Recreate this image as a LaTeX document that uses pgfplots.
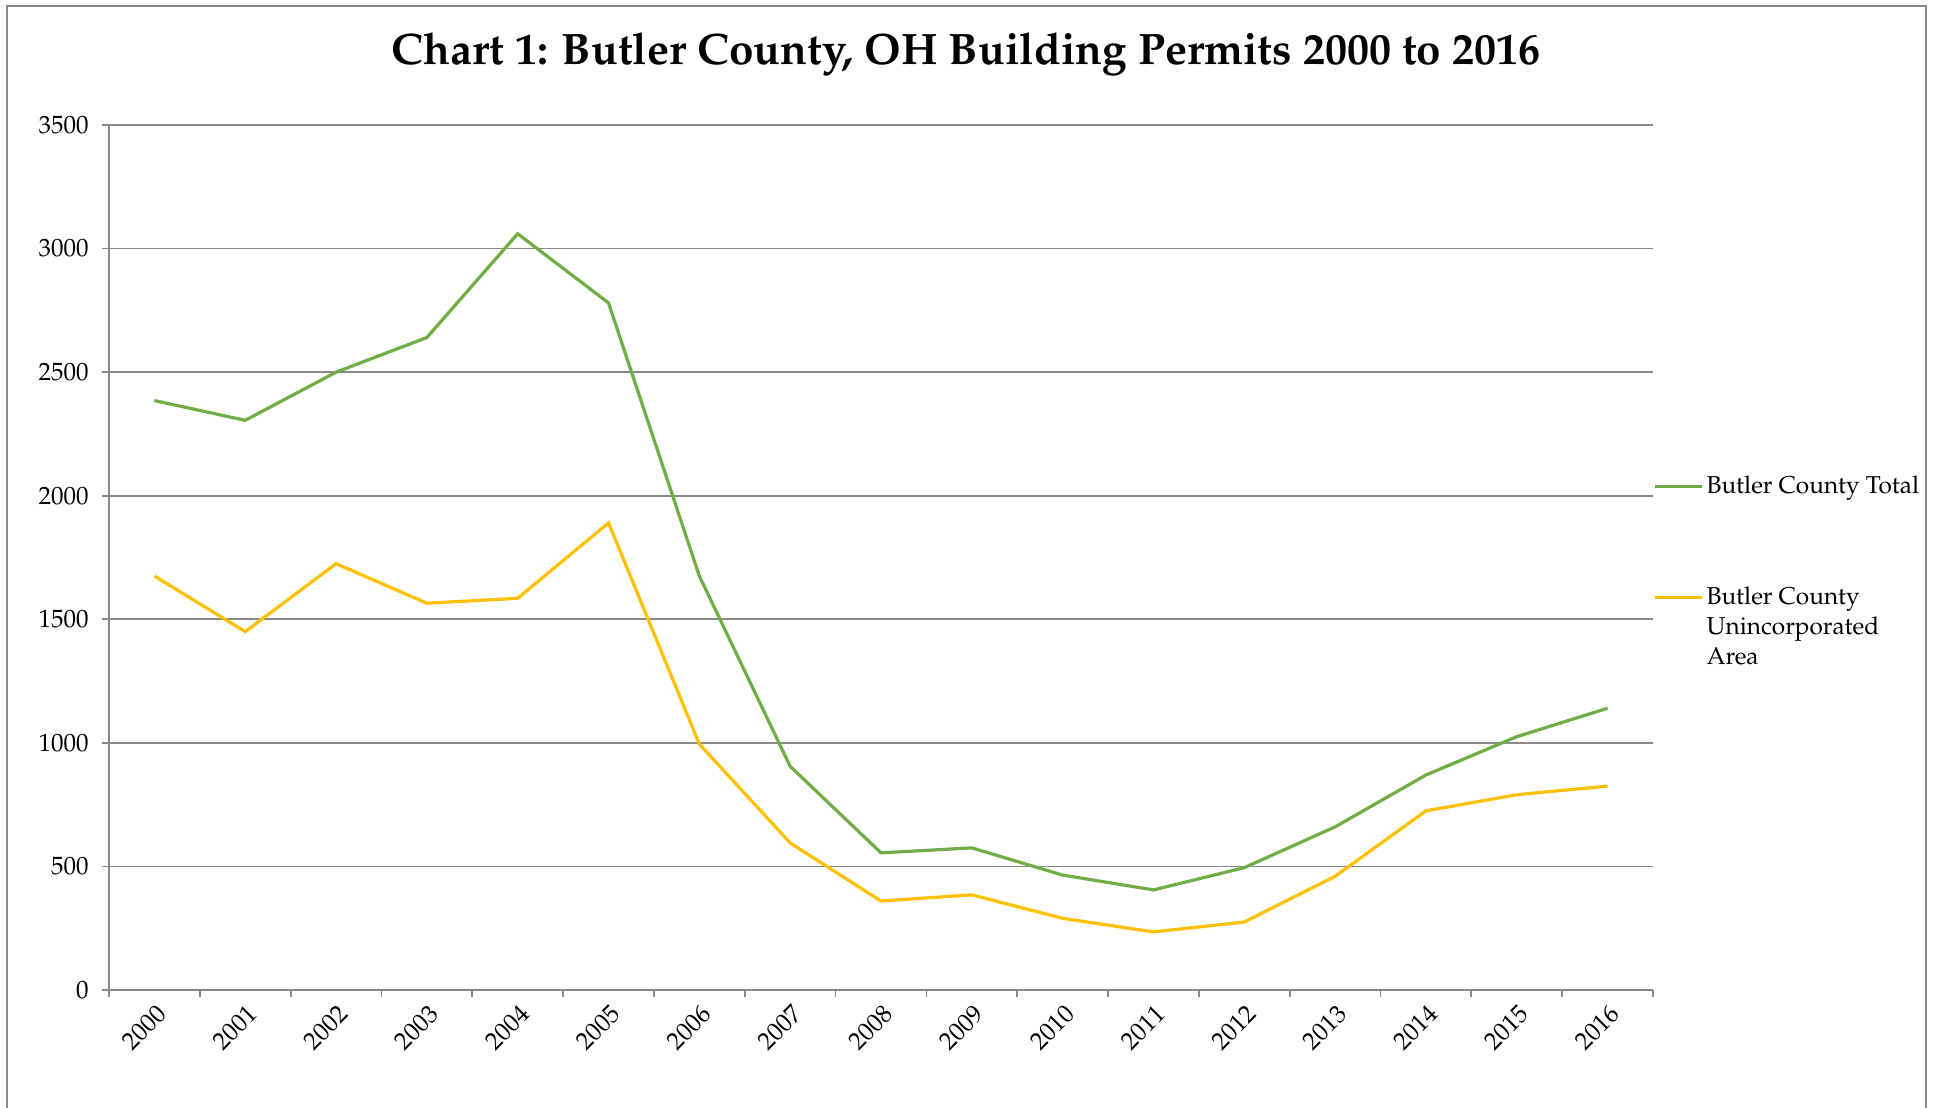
\documentclass[border=0pt]{standalone}
\usepackage[T1]{fontenc}
\usepackage{mathpazo}
\usepackage{pgfplots}
\pgfplotsset{compat=1.18}

\definecolor{gridgray}{HTML}{898989}
\definecolor{totgreen}{HTML}{70AD47}
\definecolor{unyellow}{HTML}{FFC000}

\begin{document}
\begin{tikzpicture}
% page box and outer frame (open at the bottom, as in the reference)
\path[use as bounding box] (-54.5pt,-59pt) rectangle (914.5pt,495pt);
\draw[gridgray, line width=1pt] (-51pt,-59pt) -- (-51pt,492pt) -- (908.5pt,492pt) -- (908.5pt,-59pt);
\node[font=\fontsize{22}{26}\selectfont\bfseries] at (428.5pt,468pt)
  {Chart 1: Butler County, OH Building Permits 2000 to 2016};
\begin{axis}[
    at={(0pt,0pt)}, anchor=south west,
    scale only axis,
    width=772pt, height=432.5pt,
    xmin=-0.5, xmax=16.5,
    ymin=0, ymax=3500,
    xtick={0,...,16},
    xticklabels={2000,2001,2002,2003,2004,2005,2006,2007,2008,2009,2010,2011,2012,2013,2014,2015,2016},
    minor xtick={-0.5,0.5,...,16.5},
    major x tick style={draw=none},
    ytick={0,500,...,3500},
    axis x line*=bottom, axis y line*=left,
    axis line style={gridgray, line width=0.9pt, -},
    tick style={gridgray, line width=0.9pt},
    tick align=outside,
    major tick length=3.7pt, minor tick length=3.7pt,
    ymajorgrids,
    grid style={gridgray, line width=0.9pt},
    /pgf/number format/1000 sep={},
    /pgf/number format/assume math mode=true,
    ticklabel style={font=\fontsize{12.5}{15}\selectfont},
    xticklabel style={rotate=45, anchor=east, yshift=-7pt, xshift=1.5pt},
    yticklabel style={xshift=-3pt},
    legend style={draw=none, fill=none, inner sep=0pt,
        at={(axis description cs:1.0,0.598)}, anchor=north west,
        font=\fontsize{12.2}{15}\selectfont,
        row sep=42pt,
        cells={anchor=base west},
        nodes={inner sep=1.5pt}},
    legend image code/.code={\draw[#1] (0pt,3.5pt) -- (23.5pt,3.5pt);},
]
\addplot[totgreen, line width=1.6pt] coordinates {
  (0,2385) (1,2305) (2,2500) (3,2640) (4,3060) (5,2780) (6,1675) (7,905) (8,555)
  (9,575) (10,465) (11,405) (12,495) (13,660) (14,870) (15,1025) (16,1140)};
\addplot[unyellow, line width=1.6pt] coordinates {
  (0,1675) (1,1450) (2,1725) (3,1565) (4,1585) (5,1890) (6,995) (7,595) (8,360)
  (9,385) (10,290) (11,235) (12,275) (13,460) (14,725) (15,790) (16,825)};
\legend{Butler County Total, {\parbox[t]{110pt}{Butler County\\Unincorporated\\Area}}}
\end{axis}
\end{tikzpicture}
\end{document}
